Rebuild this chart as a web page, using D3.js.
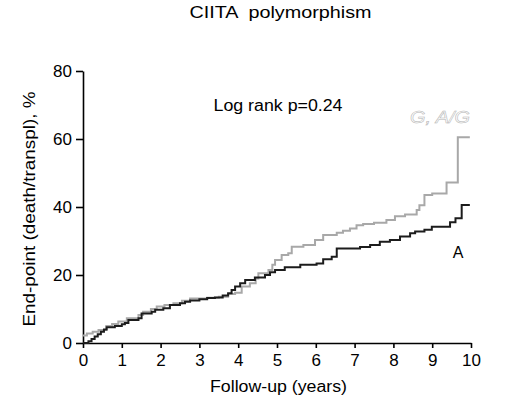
<!DOCTYPE html>
<html>
<head>
<meta charset="utf-8">
<script src="https://cdn.jsdelivr.net/npm/d3@7"></script>
<style>
  body { margin: 0; background: #fff; }
  text { font-family: "Liberation Sans", Arial, sans-serif; fill: #000; }
</style>
</head>
<body>
<script>
// Kaplan-Meier style step data (years, %)
var timesA = [0, 0.14, 0.22, 0.3, 0.38, 0.46, 0.54, 0.61, 0.82, 1.0, 1.08, 1.17, 1.43, 1.51, 1.77, 1.86, 2.07, 2.24, 2.5, 2.63, 2.76, 3.0, 3.2, 3.4, 3.6, 3.74, 3.83, 3.92, 4.05, 4.18, 4.43, 4.69, 4.82, 4.95, 5.2, 5.6, 6.02, 6.19, 6.41, 6.54, 7.14, 7.4, 7.65, 7.91, 8.17, 8.43, 8.56, 8.8, 8.99, 9.46, 9.6, 9.76, 9.97];
var valuesA = [0, 0.5, 1.2, 1.9, 2.6, 3.3, 4.0, 4.6, 5.0, 5.5, 5.9, 6.8, 7.3, 8.7, 9.2, 9.8, 10.2, 11.2, 11.7, 12.1, 12.5, 12.9, 13.2, 13.4, 14.0, 14.6, 15.6, 16.6, 17.6, 18.5, 19.3, 20.0, 20.8, 21.5, 22.3, 23.0, 23.4, 24.6, 25.4, 27.8, 28.2, 28.8, 29.8, 30.3, 31.3, 32.3, 32.8, 33.3, 34.2, 35.5, 36.7, 40.6, 40.6];

var timesG = [0, 0.1, 0.25, 0.4, 0.6, 0.75, 0.91, 1.13, 1.43, 1.55, 1.75, 1.9, 2.1, 2.33, 2.55, 2.76, 3.2, 3.5, 3.74, 3.92, 4.09, 4.3, 4.45, 4.52, 4.78, 4.88, 4.95, 5.12, 5.29, 5.38, 5.68, 5.98, 6.19, 6.54, 6.7, 6.88, 7.05, 7.22, 7.5, 7.82, 8.04, 8.3, 8.6, 8.67, 8.8, 9.0, 9.37, 9.66, 9.97];
var valuesG = [2.2, 2.8, 3.3, 3.8, 5.0, 5.6, 6.3, 7.3, 8.2, 9.2, 10.0, 10.7, 11.2, 11.7, 12.4, 13.1, 13.3, 13.6, 14.4, 14.8, 16.6, 17.6, 19.0, 20.5, 21.5, 23.0, 24.4, 25.9, 26.4, 28.3, 28.8, 30.3, 31.8, 32.4, 33.0, 33.7, 34.6, 35.0, 35.4, 36.2, 37.3, 37.8, 39.1, 40.5, 43.5, 44.0, 47.2, 60.5, 60.5];

var xTicks = [0, 1, 2, 3, 4, 5, 6, 7, 8, 9, 10];
var yTicks = [0, 20, 40, 60, 80];

const width = 512;
const height = 418;

let svg = d3.select("body")
    .append("svg")
    .attr("width", width)
    .attr("height", height);

let x = d3.scaleLinear().domain([0, 10]).range([83, 471]);
let y = d3.scaleLinear().domain([0, 80]).range([343, 71]);

// Axes
let xAxis = svg.append("g")
    .attr("transform", `translate(0,${y(0)})`)
    .call(d3.axisBottom(x).tickValues(xTicks).tickSize(5).tickSizeOuter(0).tickPadding(6));

let yAxis = svg.append("g")
    .attr("transform", `translate(${x(0)},0)`)
    .call(d3.axisLeft(y).tickValues(yTicks).tickSize(7).tickSizeOuter(0).tickPadding(4));

[xAxis, yAxis].forEach(g => {
    g.select(".domain").attr("stroke", "#000").attr("stroke-width", 1.6);
    g.selectAll(".tick line").attr("stroke", "#000").attr("stroke-width", 1.6);
    g.selectAll(".tick text")
        .attr("font-size", 17)
        .attr("font-family", "Liberation Sans, Arial, sans-serif")
        .attr("fill", "#000");
});

// Curves
let line = d3.line()
    .x(d => x(d[0]))
    .y(d => y(d[1]))
    .curve(d3.curveStepAfter);

let dataG = d3.zip(timesG, valuesG);
let dataA = d3.zip(timesA, valuesA);

svg.append("path")
    .datum(dataG)
    .attr("fill", "none")
    .attr("stroke", "#a8a8a8")
    .attr("stroke-width", 2)
    .attr("d", line);

svg.append("path")
    .datum(dataA)
    .attr("fill", "none")
    .attr("stroke", "#1c1c1c")
    .attr("stroke-width", 2)
    .attr("d", line);

// Text helper: stretch text to a measured width
let addText = (str, tx, ty, size, len, rotate) => {
    let t = svg.append("text")
        .attr("transform", `translate(${tx},${ty})` + (rotate ? ` rotate(${rotate})` : ""))
        .attr("text-anchor", "middle")
        .attr("font-size", size)
        .style("white-space", "pre")
        .text(str);
    if (len) {
        t.attr("textLength", len).attr("lengthAdjust", "spacingAndGlyphs");
    }
    return t;
};

// Title
addText("CIITA  polymorphism", 280.5, 17.5, 16, 182);

// Log rank annotation
addText("Log rank p=0.24", 278, 110.5, 16, 129);

// Axis titles
addText("Follow-up (years)", 278.5, 391.5, 16, 137);
addText("End-point (death/transpl), %", 35, 209, 16, 235, -90);

// Series labels (outlined italic)
addText("G, A/G", 440, 123, 17, 60)
    .attr("font-style", "italic")
    .style("fill", "#fff")
    .attr("stroke", "#b4b4b4")
    .attr("stroke-width", 0.5);

addText("A", 458, 257.5, 16);
</script>
</body>
</html>
